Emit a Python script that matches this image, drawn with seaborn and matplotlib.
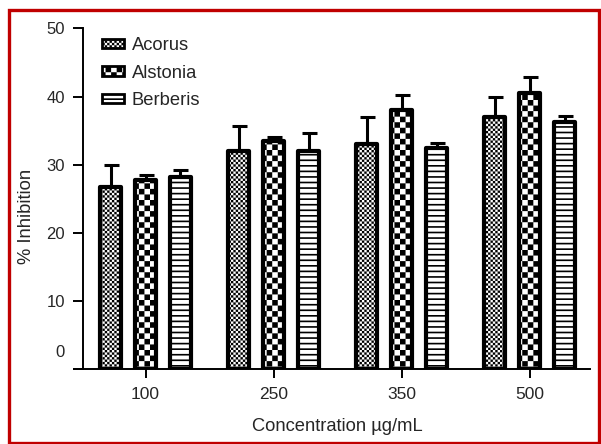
import warnings
import numpy as np
import pandas as pd
import matplotlib
matplotlib.use("Agg")
import matplotlib.pyplot as plt
import matplotlib.hatch as mhatch
from matplotlib.path import Path
from matplotlib.patches import Rectangle
from matplotlib.transforms import ScaledTranslation
import seaborn as sns

warnings.filterwarnings("ignore")

# data (mean and upper error)
concentrations = ["100", "250", "350", "500"]
extracts = ["Acorus", "Alstonia", "Berberis"]
acorus_mean = [26.8, 32.0, 33.0, 37.0]
acorus_err = [3.2, 3.7, 4.0, 3.0]
alstonia_mean = [27.7, 33.5, 38.0, 40.5]
alstonia_err = [0.8, 0.5, 2.2, 2.3]
berberis_mean = [28.2, 32.0, 32.5, 36.3]
berberis_err = [1.0, 2.7, 0.7, 0.9]


# filled hatch patterns (checkerboards and stripes) like the GraphPad fills
class CheckerHatch(mhatch.HatchPatternBase):
    symbol = "c"

    def __init__(self, hatch, density):
        n = int(hatch.count(self.symbol) * density)
        self.num_cells = n - n % 2
        self.num_vertices = self.num_cells * self.num_cells // 2 * 5

    def set_vertices_and_codes(self, vertices, codes):
        n = self.num_cells
        s = 1.0 / n
        square = np.array([[0, 0], [1, 0], [1, 1], [0, 1], [0, 0]]) * s
        code = [Path.MOVETO, Path.LINETO, Path.LINETO, Path.LINETO, Path.CLOSEPOLY]
        k = 0
        for i in range(n):
            for j in range(n):
                if (i + j) % 2 == 0:
                    vertices[k:k + 5] = square + [i * s, j * s]
                    codes[k:k + 5] = code
                    k += 5


class FineCheckerHatch(CheckerHatch):
    symbol = "k"


class StripeHatch(mhatch.HatchPatternBase):
    symbol = "s"
    thickness = 0.3

    def __init__(self, hatch, density):
        self.num_lines = int(hatch.count(self.symbol) * density)
        self.num_vertices = self.num_lines * 5

    def set_vertices_and_codes(self, vertices, codes):
        n = self.num_lines
        s = 1.0 / n
        t = s * self.thickness
        code = [Path.MOVETO, Path.LINETO, Path.LINETO, Path.LINETO, Path.CLOSEPOLY]
        for i in range(n):
            y = i * s
            vertices[i * 5:i * 5 + 5] = [[0, y], [1, y], [1, y + t], [0, y + t], [0, y]]
            codes[i * 5:i * 5 + 5] = code


mhatch._hatch_types.extend([CheckerHatch, FineCheckerHatch, StripeHatch])

sns.set_style("ticks")
plt.rcParams['font.family'] = ['Liberation Sans', 'DejaVu Sans']
plt.rcParams['hatch.linewidth'] = 0.0
plt.rcParams['hatch.color'] = 'black'

df = pd.DataFrame({
    "Concentration": np.tile(concentrations, 3),
    "Extract": np.repeat(extracts, len(concentrations)),
    "Inhibition": acorus_mean + alstonia_mean + berberis_mean,
})
errors = [acorus_err, alstonia_err, berberis_err]
hatches = ["kkkkkkk", "ccc", "sss"]

fig = plt.figure(figsize=(6.01, 4.44), dpi=100)
ax = fig.add_axes([0.1231, 0.1682, 0.8586, 0.7680])

sns.barplot(data=df, x="Concentration", y="Inhibition", hue="Extract",
            order=concentrations, hue_order=extracts, palette=["white"] * 3,
            edgecolor="black", linewidth=3, width=0.817, gap=0.4,
            errorbar=None, saturation=1, legend=False, ax=ax)

for cont, err, h in zip(ax.containers, errors, hatches):
    for bar in cont:
        bar.set_hatch(h)
        bar.set_joinstyle("round")
    xs = [b.get_x() + b.get_width() / 2 for b in cont]
    ys = [b.get_height() for b in cont]
    ax.errorbar(xs, ys, yerr=[np.zeros(len(err)), err], fmt="none",
                ecolor="black", elinewidth=2.2, capsize=5.4, capthick=2.2,
                zorder=0.5)

ax.set_xlim(-0.559, 3.47)
ax.set_ylim(0, 50)
ax.set_yticks(range(0, 51, 10))
ax.spines['top'].set_visible(False)
ax.spines['right'].set_visible(False)
ax.spines['left'].set_position(('data', -0.49))
ax.spines['left'].set_bounds(0, 50)
for sp in ['left', 'bottom']:
    ax.spines[sp].set_linewidth(1.4)
    ax.spines[sp].set_color('black')
ax.tick_params(axis='y', length=7, width=1.4, pad=5.8, labelsize=12, color='black')
ax.tick_params(axis='x', length=6.5, width=1.4, pad=6.5, labelsize=12.5, color='black')

# GraphPad puts the zero label above the baseline
t0 = ax.yaxis.get_major_ticks()[0]
t0.label1.set_transform(t0.label1.get_transform()
                        + ScaledTranslation(0, 0.18, fig.dpi_scale_trans))

ax.set_xlabel("Concentration µg/mL", fontsize=13.2)
ax.set_ylabel("% Inhibition", fontsize=13.2)
ax.xaxis.set_label_coords(0.51, -0.143)
ax.yaxis.set_label_coords(-0.0756, 0.448)

handles = [Rectangle((0, 0), 1, 1, facecolor='white', edgecolor='black',
                     linewidth=2.0, hatch=h) for h in hatches]
ax.legend(handles, extracts, loc='upper left', bbox_to_anchor=(0.1692, 0.916),
          bbox_transform=fig.transFigure, frameon=False, fontsize=13.2,
          handlelength=1.2, handleheight=0.42, handletextpad=0.45,
          labelspacing=0.57, borderpad=0, borderaxespad=0)

# red frame around the whole figure
fig.patches.append(Rectangle((9 / 601, 1 / 444), 590.3 / 601, 433 / 444,
                             transform=fig.transFigure, fill=False,
                             edgecolor='#c00000', linewidth=2.4))

fig.savefig("out.png", dpi=100)
